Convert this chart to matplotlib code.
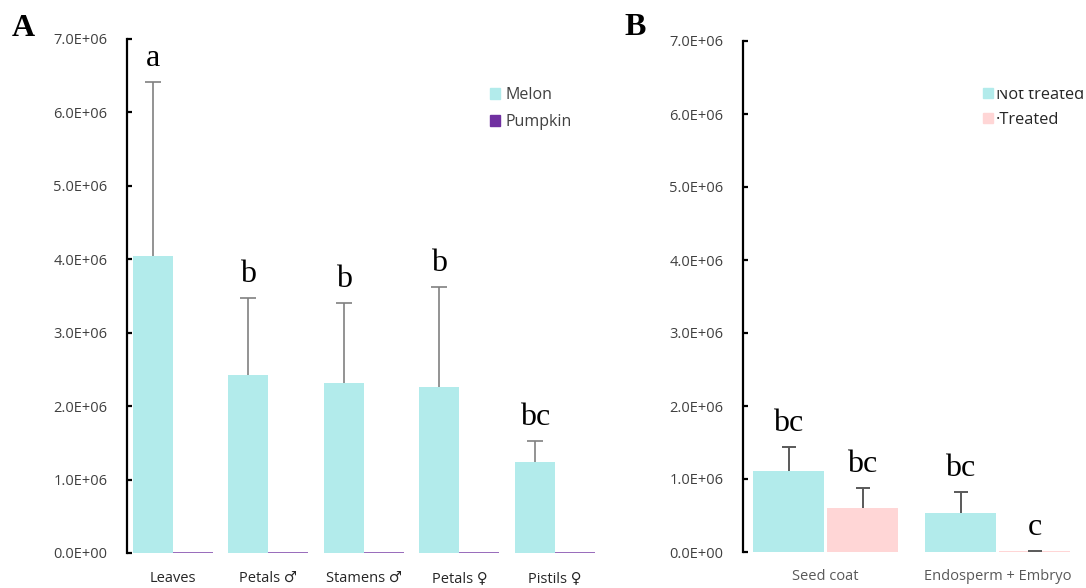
import numpy as np
import matplotlib
matplotlib.use('Agg')
import matplotlib.pyplot as plt
from matplotlib.patches import Patch
from matplotlib.transforms import Bbox

# Panel A data
tissues = ['Leaves', 'Petals ♂', 'Stamens ♂', 'Petals ♀', 'Pistils ♀']
melon = [4.04e6, 2.42e6, 2.31e6, 2.26e6, 1.24e6]
melon_err = [2.38e6, 1.05e6, 1.09e6, 1.36e6, 0.28e6]
pumpkin = [1.5e4, 1.5e4, 1.5e4, 1.5e4, 1.5e4]
letters_a = ['a', 'b', 'b', 'b', 'bc']

# Panel B data
seed_parts = ['Seed coat', 'Endosperm + Embryo']
not_treated = [1.11e6, 0.53e6]
not_treated_err = [0.33e6, 0.29e6]
treated = [0.60e6, 0.015e6]
treated_err = [0.28e6, 0.004e6]
letters_nt = ['bc', 'bc']
letters_t = ['bc', 'c']

CYAN = '#b2ebeb'
PURPLE = '#7030a0'
PINK = '#ffd6d6'
W, H = 1086, 588

fig = plt.figure(figsize=(W / 100, H / 100), dpi=100)
sans = ['Open Sans', 'DejaVu Sans']
serif = 'Liberation Serif'
yticks = np.arange(0, 7.1e6, 1e6)


def fmt(v):
    return '%.1fE+%02d' % (v / 1e6, 6) if v > 0 else '0.0E+00'


def style_axis(ax, lab_color, pad):
    ax.set_ylim(0, 7e6)
    ax.set_yticks(yticks)
    ax.set_yticklabels([fmt(v) for v in yticks], family=sans, fontsize=10.5, color='#404040')
    for s in ['top', 'right', 'bottom']:
        ax.spines[s].set_visible(False)
    ax.spines['left'].set_linewidth(1.6)
    ax.tick_params(axis='y', direction='in', length=3.5, width=1.6, pad=14)
    ax.tick_params(axis='x', length=0, pad=pad, labelcolor=lab_color)


def up_errors(ax, xs, vals, errs, color, lw, cap):
    # only the upper half of the error bar, as in the original
    _, caps, _ = ax.errorbar(xs, vals, yerr=[np.zeros(len(vals)), errs], fmt='none',
                             ecolor=color, elinewidth=lw, capsize=cap, capthick=lw)
    caps[0].set_visible(False)


def put_letters(ax, xs, tops, letters):
    for x, t, l in zip(xs, tops, letters):
        ax.annotate(l, (x, t), xytext=(0, 11.5), textcoords='offset points',
                    ha='center', va='baseline', family=serif, fontsize=23)


# ---- Panel A ----
axA = fig.add_axes([127 / W, 35 / H, 477.5 / W, 514 / H])
x = np.arange(len(tissues))
bw = 0.42
axA.bar(x - bw / 2, melon, bw, color=CYAN, label='Melon')
axA.bar(x + bw / 2, pumpkin, bw, color=PURPLE, alpha=0.7, label='Pumpkin')
up_errors(axA, x - bw / 2, melon, melon_err, '#808080', 1.2, 5.5)
put_letters(axA, x - bw / 2, np.array(melon) + np.array(melon_err), letters_a)
axA.set_xlim(-0.48, 4.52)
axA.set_xticks(x)
axA.set_xticklabels(tissues, family=sans, fontsize=10.5)
style_axis(axA, '#262626', 13)
legA = axA.legend(handles=[Patch(color=CYAN, label='Melon'), Patch(color=PURPLE, label='Pumpkin')],
                  loc='upper left', bbox_to_anchor=(490 / W, 1 - 87 / H), bbox_transform=fig.transFigure,
                  frameon=False, handlelength=0.65, handleheight=0.65, handletextpad=0.35,
                  labelspacing=0.68, prop={'family': sans, 'size': 11.5}, borderpad=0, borderaxespad=0)
for t in legA.get_texts():
    t.set_color('#404040')

# ---- Panel B ----
axB = fig.add_axes([743 / W, 36 / H, 340.6 / W, 511 / H])
xb = np.arange(len(seed_parts))
bwb = 0.41
off = 0.215
axB.bar(xb - off, not_treated, bwb, color=CYAN, label='Not treated')
axB.bar(xb + off, treated, bwb, color=PINK, label='Treated')
up_errors(axB, xb - off, not_treated, not_treated_err, '#595959', 1.4, 4.8)
up_errors(axB, xb + off, treated, treated_err, '#595959', 1.4, 4.8)
put_letters(axB, xb - off, np.array(not_treated) + np.array(not_treated_err), letters_nt)
put_letters(axB, xb + off, np.array(treated) + np.array(treated_err), letters_t)
axB.set_xlim(-0.48, 1.5)
axB.set_xticks(xb)
axB.set_xticklabels(seed_parts, family=sans, fontsize=10.5)
style_axis(axB, '#595959', 12)
legB = axB.legend(handles=[Patch(color=CYAN, label='Not treated'), Patch(color=PINK, label='·Treated')],
                  loc='upper left', bbox_to_anchor=(983 / W, 1 - 87 / H), bbox_transform=fig.transFigure,
                  frameon=False, handlelength=0.6, handleheight=0.6, handletextpad=0.2,
                  labelspacing=0.55, prop={'family': sans, 'size': 11.8}, borderpad=0, borderaxespad=0)
for t in legB.get_texts():
    t.set_color('#262626')
# top of the first entry is cut off in the original
nt_text = legB.get_texts()[0]
nt_text.set_clip_on(True)
nt_text.set_clip_box(Bbox.from_extents(0, 0, W, H - 90))

# panel letters
fig.text(12 / W, 1 - 36 / H, 'A', family=serif, fontsize=23, fontweight='bold', va='baseline')
fig.text(624 / W, 1 - 35 / H, 'B', family=serif, fontsize=23, fontweight='bold', va='baseline')

fig.savefig('out.png', dpi=100)
